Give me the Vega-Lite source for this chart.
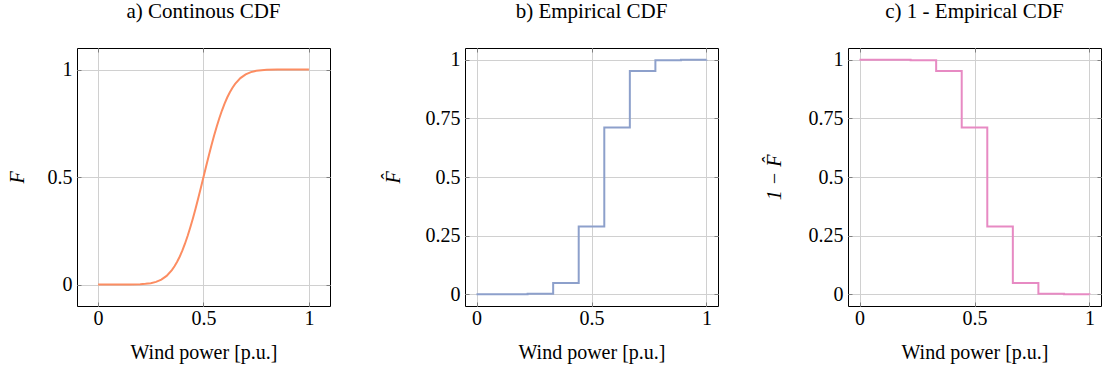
{
  "$schema": "https://vega.github.io/schema/vega-lite/v6.json",
  "padding": {"left": 6, "top": 0, "right": 0, "bottom": 3},
  "datasets": {
    "cont": [
      {"x": 0, "F": 0.0000003}, {"x": 0.05, "F": 0.0000034}, {"x": 0.1, "F": 0.0000317}, {"x": 0.15, "F": 0.000233},
      {"x": 0.2, "F": 0.00135}, {"x": 0.225, "F": 0.00298}, {"x": 0.25, "F": 0.00621}, {"x": 0.275, "F": 0.01222},
      {"x": 0.3, "F": 0.02275}, {"x": 0.325, "F": 0.04006}, {"x": 0.35, "F": 0.06681}, {"x": 0.3625, "F": 0.08457},
      {"x": 0.375, "F": 0.10565}, {"x": 0.3875, "F": 0.13029}, {"x": 0.4, "F": 0.15866}, {"x": 0.4125, "F": 0.19079},
      {"x": 0.425, "F": 0.22663}, {"x": 0.4375, "F": 0.26599}, {"x": 0.45, "F": 0.30854}, {"x": 0.4625, "F": 0.35383},
      {"x": 0.475, "F": 0.40129}, {"x": 0.4875, "F": 0.45026}, {"x": 0.5, "F": 0.5}, {"x": 0.5125, "F": 0.54974},
      {"x": 0.525, "F": 0.59871}, {"x": 0.5375, "F": 0.64617}, {"x": 0.55, "F": 0.69146}, {"x": 0.5625, "F": 0.73401},
      {"x": 0.575, "F": 0.77337}, {"x": 0.5875, "F": 0.80921}, {"x": 0.6, "F": 0.84134}, {"x": 0.6125, "F": 0.86971},
      {"x": 0.625, "F": 0.89435}, {"x": 0.6375, "F": 0.91543}, {"x": 0.65, "F": 0.93319}, {"x": 0.675, "F": 0.95994},
      {"x": 0.7, "F": 0.97725}, {"x": 0.725, "F": 0.98778}, {"x": 0.75, "F": 0.99379}, {"x": 0.775, "F": 0.99702},
      {"x": 0.8, "F": 0.99865}, {"x": 0.85, "F": 0.99977}, {"x": 0.9, "F": 0.99997}, {"x": 0.95, "F": 0.999997},
      {"x": 1, "F": 1}
    ],
    "ecdf": [
      {"x": 0, "F": 0}, {"x": 0.1111, "F": 0.00005}, {"x": 0.2222, "F": 0.0027}, {"x": 0.3333, "F": 0.0478},
      {"x": 0.4444, "F": 0.2893}, {"x": 0.5556, "F": 0.7107}, {"x": 0.6667, "F": 0.9522}, {"x": 0.7778, "F": 0.9973},
      {"x": 0.8889, "F": 0.99995}, {"x": 1, "F": 1}
    ],
    "ecdf1m": [
      {"x": 0, "F": 1}, {"x": 0.1111, "F": 0.99995}, {"x": 0.2222, "F": 0.9973}, {"x": 0.3333, "F": 0.9522},
      {"x": 0.4444, "F": 0.7107}, {"x": 0.5556, "F": 0.2893}, {"x": 0.6667, "F": 0.0478}, {"x": 0.7778, "F": 0.0027},
      {"x": 0.8889, "F": 0.00005}, {"x": 1, "F": 0}
    ]
  },
  "bounds": "flush",
  "spacing": 135,
  "hconcat": [
    {
      "width": 253, "height": 258,
      "title": {"text": "a) Continous CDF"},
      "layer": [
        {
          "data": {"name": "cont"},
          "mark": {"type": "line", "color": "#fc8d62", "strokeWidth": 2},
          "encoding": {
            "x": {"field": "x", "type": "quantitative", "scale": {"domain": [-0.1, 1.1], "nice": false, "zero": false},
                  "axis": {"orient": "bottom", "title": "Wind power [p.u.]", "values": [0, 0.5, 1], "labelExpr": "'' + datum.value", "grid": true}},
            "y": {"field": "F", "type": "quantitative", "scale": {"domain": [-0.1, 1.1], "nice": false, "zero": false},
                  "axis": {"orient": "left", "title": "F", "titleFontStyle": "italic", "titlePadding": 20, "values": [0, 0.5, 1], "labelExpr": "'' + datum.value", "grid": true}}
          }
        },
        {
          "data": {"name": "cont"},
          "mark": {"type": "line", "opacity": 0},
          "encoding": {
            "x": {"field": "x", "type": "quantitative", "axis": {"orient": "top", "title": null, "labels": false, "grid": false, "values": [0, 0.5, 1]}},
            "y": {"field": "F", "type": "quantitative", "axis": {"orient": "right", "title": null, "labels": false, "grid": false, "values": [0, 0.5, 1]}}
          }
        }
      ],
      "resolve": {"axis": {"x": "independent", "y": "independent"}}
    },
    {
      "bounds": "flush",
      "spacing": 130,
      "hconcat": [
        {
          "width": 253, "height": 258,
          "title": {"text": "b) Empirical CDF"},
          "layer": [
            {
              "data": {"name": "ecdf"},
              "mark": {"type": "line", "color": "#8da0cb", "strokeWidth": 2, "interpolate": "step-after"},
              "encoding": {
                "x": {"field": "x", "type": "quantitative", "scale": {"domain": [-0.05, 1.05], "nice": false, "zero": false},
                      "axis": {"orient": "bottom", "title": "Wind power [p.u.]", "values": [0, 0.5, 1], "labelExpr": "'' + datum.value", "grid": true}},
                "y": {"field": "F", "type": "quantitative", "scale": {"domain": [-0.05, 1.05], "nice": false, "zero": false},
                      "axis": {"orient": "left", "title": "F̂", "titleFontStyle": "italic", "titlePadding": 22, "values": [0, 0.25, 0.5, 0.75, 1], "labelExpr": "'' + datum.value", "grid": true}}
              }
            },
            {
              "data": {"name": "ecdf"},
              "mark": {"type": "line", "opacity": 0},
              "encoding": {
                "x": {"field": "x", "type": "quantitative", "axis": {"orient": "top", "title": null, "labels": false, "grid": false, "values": [0, 0.5, 1]}},
                "y": {"field": "F", "type": "quantitative", "axis": {"orient": "right", "title": null, "labels": false, "grid": false, "values": [0, 0.25, 0.5, 0.75, 1]}}
              }
            }
          ],
          "resolve": {"axis": {"x": "independent", "y": "independent"}}
        },
        {
          "width": 253, "height": 258,
          "title": {"text": "c) 1 - Empirical CDF"},
          "layer": [
            {
              "data": {"name": "ecdf1m"},
              "mark": {"type": "line", "color": "#e78ac3", "strokeWidth": 2, "interpolate": "step-after"},
              "encoding": {
                "x": {"field": "x", "type": "quantitative", "scale": {"domain": [-0.05, 1.05], "nice": false, "zero": false},
                      "axis": {"orient": "bottom", "title": "Wind power [p.u.]", "values": [0, 0.5, 1], "labelExpr": "'' + datum.value", "grid": true}},
                "y": {"field": "F", "type": "quantitative", "scale": {"domain": [-0.05, 1.05], "nice": false, "zero": false},
                      "axis": {"orient": "left", "title": "1 − F̂", "titleFontStyle": "italic", "titlePadding": 24, "values": [0, 0.25, 0.5, 0.75, 1], "labelExpr": "'' + datum.value", "grid": true}}
              }
            },
            {
              "data": {"name": "ecdf1m"},
              "mark": {"type": "line", "opacity": 0},
              "encoding": {
                "x": {"field": "x", "type": "quantitative", "axis": {"orient": "top", "title": null, "labels": false, "grid": false, "values": [0, 0.5, 1]}},
                "y": {"field": "F", "type": "quantitative", "axis": {"orient": "right", "title": null, "labels": false, "grid": false, "values": [0, 0.25, 0.5, 0.75, 1]}}
              }
            }
          ],
          "resolve": {"axis": {"x": "independent", "y": "independent"}}
        }
      ]
    }
  ],
  "config": {
    "font": "Liberation Serif",
    "view": {"stroke": "black", "strokeWidth": 1},
    "axis": {
      "labelFont": "Liberation Serif", "labelFontSize": 20, "labelColor": "black",
      "titleFont": "Liberation Serif", "titleFontSize": 20, "titleFontWeight": "normal", "titleColor": "black",
      "domain": false, "ticks": true, "tickSize": -4, "tickColor": "#7f7f7f", "tickWidth": 1,
      "gridColor": "#d0d0d0", "gridWidth": 1, "labelPadding": 9, "titlePadding": 12
    },
    "axisX": {"labelPadding": 6, "titlePadding": 14},
    "title": {"font": "Liberation Serif", "fontSize": 21, "fontWeight": "normal", "color": "black", "offset": 26, "anchor": "middle"}
  }
}
